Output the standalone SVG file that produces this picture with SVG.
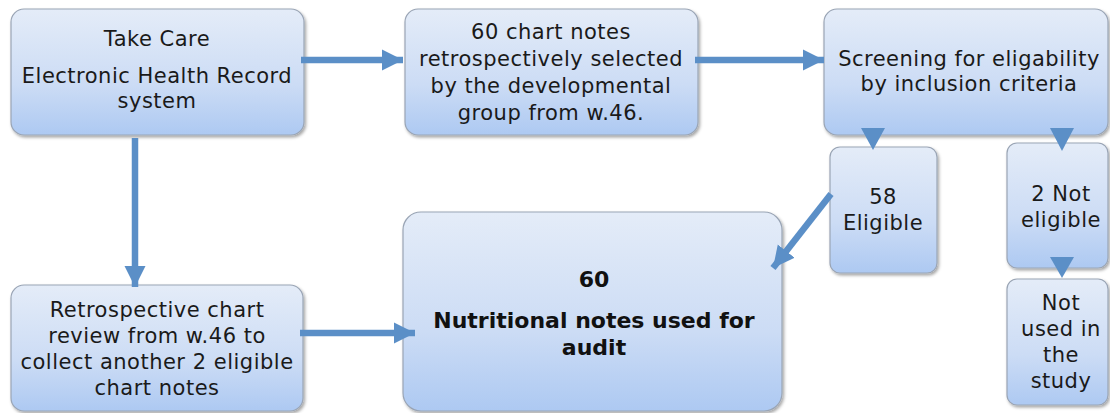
<svg xmlns="http://www.w3.org/2000/svg" width="1110" height="413" viewBox="0 0 1110 413">
  <defs>
    <linearGradient id="boxgrad" x1="0" y1="0" x2="0" y2="1">
      <stop offset="0" stop-color="#e4ecf8"/>
      <stop offset="0.6" stop-color="#ccdcf5"/>
      <stop offset="1" stop-color="#adc9f2"/>
    </linearGradient>
    <filter id="shadow" x="-10%" y="-10%" width="125%" height="125%">
      <feDropShadow dx="1.5" dy="2" stdDeviation="1.5" flood-color="#000" flood-opacity="0.35"/>
    </filter>
    <marker id="ah" viewBox="0 0 10 10" refX="10" refY="5" markerWidth="3.3" markerHeight="3.7" markerUnits="strokeWidth" orient="auto">
      <path d="M0,0 L10,5 L0,10 z" fill="#5b8fc7"/>
    </marker>
  </defs>
  <style>
    .box { fill: url(#boxgrad); stroke: #9aa5b5; stroke-width: 1.2; filter: url(#shadow); }
    .t { font-family: "DejaVu Sans", "Liberation Sans", sans-serif; font-size: 21px; letter-spacing: 0.5px; fill: #1a1a1a; text-anchor: middle; }
    .b { font-family: "DejaVu Sans", "Liberation Sans", sans-serif; font-size: 22px; font-weight: bold; fill: #111; text-anchor: middle; }
    .conn { stroke: #5b8fc7; stroke-width: 6.5; fill: none; marker-end: url(#ah); }
    .tri { fill: #5b8fc7; }
  </style>

  <g id="node-takecare">
    <rect class="box" x="11" y="9" width="293" height="126" rx="13"/>
    <text class="t" x="157" y="46">Take Care</text>
    <text class="t" x="157" y="83">Electronic Health Record</text>
    <text class="t" x="157" y="108">system</text>
  </g>

  <g id="node-selected">
    <rect class="box" x="405" y="9" width="293" height="126" rx="13"/>
    <text class="t" x="551" y="39">60 chart notes</text>
    <text class="t" x="551" y="66">retrospectively selected</text>
    <text class="t" x="551" y="93">by the developmental</text>
    <text class="t" x="551" y="120">group from w.46.</text>
  </g>

  <g id="node-screening">
    <rect class="box" x="824" y="9" width="284" height="126" rx="13"/>
    <text class="t" x="969" y="66">Screening for eligability</text>
    <text class="t" x="969" y="91">by inclusion criteria</text>
  </g>

  <g id="node-eligible">
    <rect class="box" x="830" y="147" width="107" height="126" rx="10"/>
    <text class="t" x="883" y="204">58</text>
    <text class="t" x="883" y="230">Eligible</text>
  </g>

  <g id="node-noteligible">
    <rect class="box" x="1007" y="143" width="101" height="125" rx="10"/>
    <text class="t" x="1061" y="201">2 Not</text>
    <text class="t" x="1061" y="227">eligible</text>
  </g>

  <g id="node-notused">
    <rect class="box" x="1007" y="279" width="101" height="126" rx="10"/>
    <text class="t" x="1061" y="310">Not</text>
    <text class="t" x="1061" y="336">used in</text>
    <text class="t" x="1061" y="362">the</text>
    <text class="t" x="1061" y="388">study</text>
  </g>

  <g id="node-retro">
    <rect class="box" x="11" y="285" width="292" height="126" rx="13"/>
    <text class="t" x="157" y="317">Retrospective chart</text>
    <text class="t" x="157" y="343">review from w.46 to</text>
    <text class="t" x="157" y="369">collect another 2 eligible</text>
    <text class="t" x="157" y="395">chart notes</text>
  </g>

  <g id="node-audit">
    <rect class="box" x="403" y="212" width="379" height="199" rx="18"/>
    <text class="b" x="594" y="287">60</text>
    <text class="b" x="594" y="328">Nutritional notes used for</text>
    <text class="b" x="594" y="355">audit</text>
  </g>

  <g id="connectors">
    <line class="conn" x1="301" y1="60" x2="403" y2="60"/>
    <line class="conn" x1="695" y1="60" x2="824" y2="60"/>
    <line class="conn" x1="135" y1="138" x2="135" y2="287"/>
    <line class="conn" x1="300" y1="333" x2="415" y2="333"/>
    <line class="conn" x1="831" y1="194" x2="773" y2="268"/>
    <path class="tri" d="M861,128 L885,128 L873,150 z"/>
    <path class="tri" d="M1050,128 L1074,128 L1062,151 z"/>
    <path class="tri" d="M1050,257 L1074,257 L1062,278 z"/>
  </g>
</svg>
